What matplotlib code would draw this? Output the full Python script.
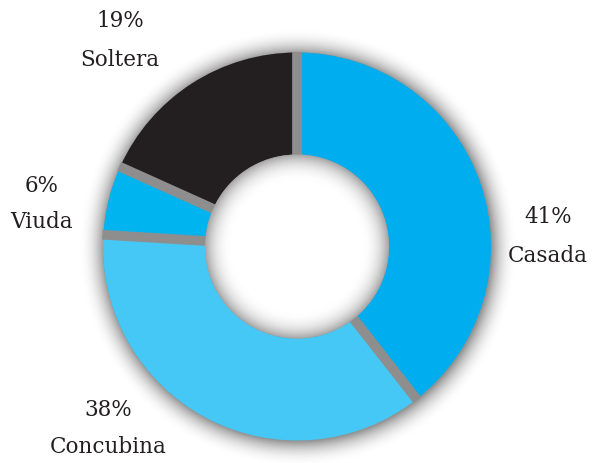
import matplotlib
matplotlib.use("Agg")
import matplotlib.pyplot as plt
import numpy as np
from matplotlib.patches import Circle

categories = ["Casada", "Concubina", "Viuda", "Soltera"]
values = [41, 38, 6, 19]
colors = ["#00AEEF", "#45C8F5", "#00B4EF", "#231F20"]

W, H = 593, 464
fig = plt.figure(figsize=(W / 100, H / 100), dpi=100)
ax = fig.add_axes([0, 0, 1, 1])

cx, cy = 297, H - 247.5
R_out, R_in = 194, 92
white = np.array([1.0, 1.0, 1.0])

# outer soft shadow (largest, lightest first)
edge_out = np.array([0.58, 0.58, 0.58])
n = 30
for i in range(n):
    t = i / (n - 1)  # 0 outermost -> 1 at edge
    r = R_out + 26 * (1 - t)
    c = white + (edge_out - white) * t ** 2.2
    ax.add_patch(Circle((cx + 1, cy - 1), r, facecolor=c, edgecolor="none", zorder=1))

# gray base under slices (shows through gaps)
ax.add_patch(Circle((cx, cy), R_out, facecolor="#8E8E8E", edgecolor="none", zorder=2))

wedges, _ = ax.pie(values, colors=colors, startangle=90, counterclock=False,
                   radius=R_out, center=(cx, cy),
                   wedgeprops=dict(width=R_out - R_in, edgecolor="none", linewidth=0))
for w in wedges:
    w.set_zorder(3)

# separators between slices
for w in wedges:
    th = np.deg2rad(w.theta1)
    ax.plot([cx + (R_in - 5) * np.cos(th), cx + (R_out + 1) * np.cos(th)],
            [cy + (R_in - 5) * np.sin(th), cy + (R_out + 1) * np.sin(th)],
            color="#8E8E8E", lw=7.0, solid_capstyle="butt", zorder=4)

# inner hole with soft shadow (largest, darkest first)
edge_in = np.array([0.66, 0.66, 0.66])
n = 30
for i in range(n):
    t = i / (n - 1)  # 0 at edge -> 1 innermost
    r = R_in - 28 * t
    c = edge_in + (white - edge_in) * (1 - (1 - t) ** 2.5)
    ax.add_patch(Circle((cx, cy), r, facecolor=np.clip(c, 0, 1),
                        edgecolor="none", zorder=5))

ax.set_xlim(0, W)
ax.set_ylim(0, H)
ax.set_aspect("equal")
ax.axis("off")

pct_pos = {"Casada": (548, 217), "Concubina": (108, 410),
           "Viuda": (42, 186), "Soltera": (120, 21)}
name_pos = {"Casada": (548, 256), "Concubina": (108, 447),
            "Viuda": (42, 222), "Soltera": (120, 60)}
for cat, v in zip(categories, values):
    x, y = pct_pos[cat]
    ax.text(x, H - y, f"{v}%", ha="center", va="center", fontsize=15.5,
            family="DejaVu Serif", color="#231F20", zorder=6)
    x, y = name_pos[cat]
    ax.text(x, H - y, cat, ha="center", va="center", fontsize=15.5,
            family="DejaVu Serif", color="#231F20", zorder=6)

fig.savefig("out.png", dpi=100, facecolor="white")
